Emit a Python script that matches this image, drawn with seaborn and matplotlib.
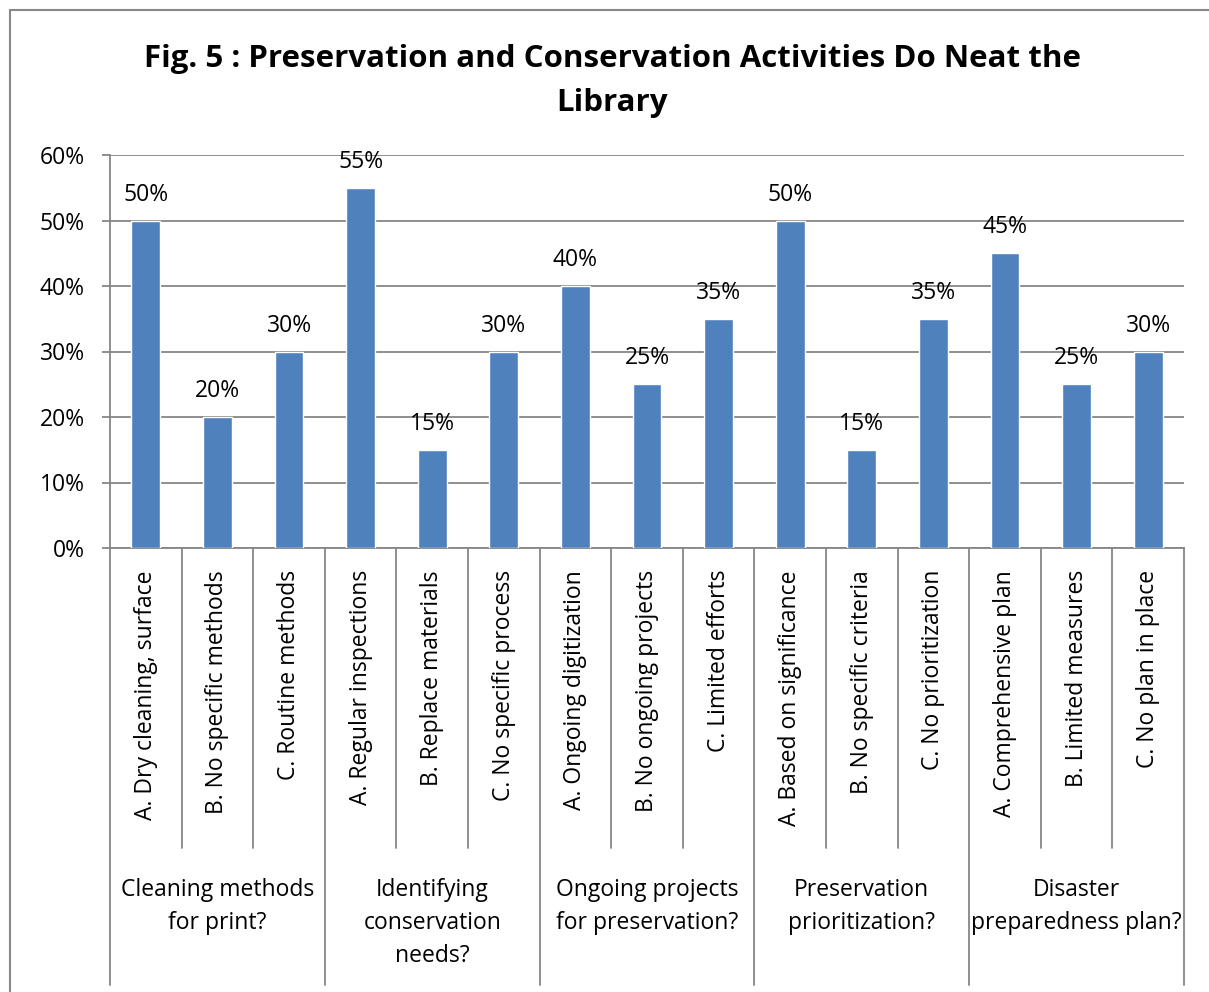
import matplotlib
matplotlib.use("Agg")
import matplotlib.pyplot as plt
import seaborn as sns
import pandas as pd
from matplotlib.patches import Rectangle
from matplotlib.lines import Line2D

# Survey responses (% of libraries)
groups = [
    "Cleaning methods\nfor print?",
    "Identifying\nconservation\nneeds?",
    "Ongoing projects\nfor preservation?",
    "Preservation\nprioritization?",
    "Disaster\npreparedness plan?",
]
answers = [
    "A. Dry cleaning, surface", "B. No specific methods", "C. Routine methods",
    "A. Regular inspections", "B. Replace materials", "C. No specific process",
    "A. Ongoing digitization", "B. No ongoing projects", "C. Limited efforts",
    "A. Based on significance", "B. No specific criteria", "C. No prioritization",
    "A. Comprehensive plan", "B. Limited measures", "C. No plan in place",
]
percent = [50, 20, 30, 55, 15, 30, 40, 25, 35, 50, 15, 35, 45, 25, 30]
y_ticks = [0, 10, 20, 30, 40, 50, 60]

sns.set_theme(style="white")
plt.rcParams["font.family"] = ["Open Sans", "DejaVu Sans"]

W, H = 1209, 992
fig = plt.figure(figsize=(W / 100, H / 100), dpi=100)

ax_left, ax_right, ax_top, ax_bottom = 110, 1184, 155, 548
ax = fig.add_axes([ax_left / W, 1 - ax_bottom / H,
                   (ax_right - ax_left) / W, (ax_bottom - ax_top) / H])

df = pd.DataFrame({"answer": [f"{i}" for i in range(len(answers))], "percent": percent})
sns.barplot(data=df, x="answer", y="percent", color="#4F81BD", width=0.4,
            saturation=1, ax=ax, zorder=3)

fs = 16.5
grid_c = "#868686"
ax.set_ylim(0, 60)
ax.set_xlim(-0.5, len(answers) - 0.5)
ax.set_yticks(y_ticks)
ax.set_yticklabels([f"{t}%" for t in y_ticks], fontsize=fs, color="#000000")
ax.yaxis.grid(True, color=grid_c, linewidth=1.3, zorder=0)
ax.xaxis.grid(False)
ax.set_xticks([])
ax.set_xlabel("")
ax.set_ylabel("")
for s in ["top", "right"]:
    ax.spines[s].set_visible(False)
ax.spines["left"].set_color(grid_c)
ax.spines["left"].set_linewidth(1.3)
ax.spines["bottom"].set_color(grid_c)
ax.spines["bottom"].set_linewidth(1.3)
ax.tick_params(axis="y", which="major", left=True, length=6, width=1.3,
               color=grid_c, pad=12)

# value labels above bars
for i, v in enumerate(percent):
    ax.annotate(f"{v}%", (i, v), xytext=(0, 10), textcoords="offset points",
                ha="center", va="bottom", fontsize=fs, color="#000000")

ah = ax_bottom - ax_top
def yax(px):
    return (ax_bottom - px) / ah

xt = ax.get_xaxis_transform()
# separators between answers and between question groups
for k in range(len(answers) + 1):
    bottom_px = 985 if k % 3 == 0 else 848
    ax.add_line(Line2D([k - 0.5, k - 0.5], [0, yax(bottom_px)], transform=xt,
                       color=grid_c, linewidth=1.3, clip_on=False))

# rotated answer labels
for i, lab in enumerate(answers):
    ax.text(i, yax(570), lab, transform=xt, rotation=90, ha="center", va="top",
            fontsize=fs, color="#000000")

# question group labels
for g, lab in enumerate(groups):
    ax.text(g * 3 + 1, yax(878), lab, transform=xt, ha="center", va="top",
            fontsize=fs, color="#000000", linespacing=1.5)

fig.text(612 / W, 1 - 81 / H,
         "Fig. 5 : Preservation and Conservation Activities Do Neat the\nLibrary",
         ha="center", va="center", fontsize=22.5, fontweight="bold",
         color="#000000", linespacing=1.6)

# chart frame
fig.patches.append(Rectangle((10 / W, -0.1), 1.2, 1 - 10 / H + 0.1,
                             transform=fig.transFigure, fill=False,
                             edgecolor="#888888", linewidth=1.5))

fig.savefig("out.png", dpi=100, facecolor="white")
